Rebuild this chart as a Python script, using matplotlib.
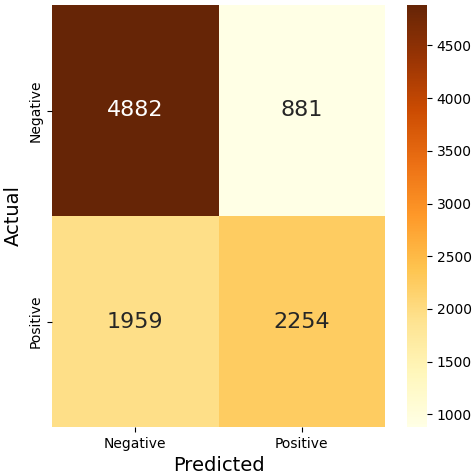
import matplotlib
matplotlib.use("Agg")
import matplotlib.pyplot as plt
import seaborn as sns
import numpy as np

labels = ["Negative", "Positive"]
values = np.array([[4882, 881], [1959, 2254]])

fig = plt.figure(figsize=(4.74, 4.74), dpi=100)
ax = fig.add_axes([52/474, 47/474, 333/474, 422/474])
cax = fig.add_axes([407/474, 47/474, 20/474, 422/474])
sns.heatmap(values, annot=True, fmt="d", cmap="YlOrBr", ax=ax, cbar_ax=cax,
            xticklabels=labels, yticklabels=labels, annot_kws={"size": 16})
ax.set_xlabel("Predicted", fontsize=14)
ax.set_ylabel("Actual", fontsize=14)
fig.savefig("out.png", dpi=100)
